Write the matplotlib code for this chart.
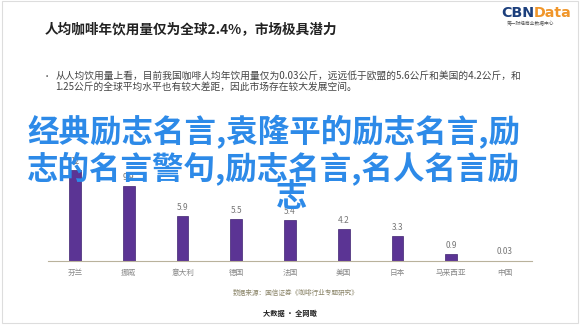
import numpy as np
import matplotlib.pyplot as plt
from matplotlib.patches import Rectangle

plt.rcParams['font.family'] = ['Noto Sans CJK SC', 'DejaVu Sans']

countries = ['芬兰', '挪威', '意大利', '德国', '法国', '美国', '日本', '马来西亚', '中国']
values = [12.0, 9.9, 5.9, 5.5, 5.4, 4.2, 3.3, 0.9, 0.03]
value_labels = ['12', '9.9', '5.9', '5.5', '5.4', '4.2', '3.3', '0.9', '0.03']

title = '人均咖啡年饮用量仅为全球2.4%，市场极具潜力'
bullet_lines = ['从人均饮用量上看，目前我国咖啡人均年饮用量仅为0.03公斤，远远低于欧盟的5.6公斤和美国的4.2公斤，和',
                '1.25公斤的全球平均水平也有较大差距，因此市场存在较大发展空间。']
source = '数据来源：国信证券《咖啡行业专题研究》'
footer = '大数据 · 全网瞰'
overlay = ['经典励志名言,袁隆平的励志名言,励', '志的名言警句,励志名言,名人名言励', '志']

fig = plt.figure(figsize=(5.8, 3.25), dpi=100)
fig.patch.set_facecolor('white')

# slide frame
fig.add_artist(Rectangle((0.004, 0.006), 0.992, 0.99, transform=fig.transFigure,
                         fill=False, edgecolor='#dddddd', linewidth=0.8))

ax = fig.add_axes([0.083, 0.197, 0.834, 0.372])
x = np.arange(len(countries))
bars = ax.bar(x, values, width=0.22, color='#5b3494', edgecolor='#3f2370', linewidth=0.5)
for xi, v, lab in zip(x, values, value_labels):
    ax.text(xi, v + 0.6, lab, ha='center', va='bottom', fontsize=6, color='#777777')

ax.set_xlim(-0.5, len(countries) - 0.5)
ax.set_ylim(0, 16)
ax.set_yticks([])
ax.set_xticks(x)
ax.set_xticklabels(countries, fontsize=5.5, color='#888888')
ax.tick_params(axis='x', length=0, pad=6)
for s in ['top', 'right', 'left']:
    ax.spines[s].set_visible(False)
ax.spines['bottom'].set_color('#b9b29c')
ax.spines['bottom'].set_linewidth(0.8)
ax.patch.set_alpha(0)

# header
fig.text(0.077, 0.907, title, fontsize=9.8, fontweight='bold', color='#222222', va='center')
fig.text(0.080, 0.766, '•', fontsize=6, color='#555555', va='center', ha='center')
fig.text(0.095, 0.766, bullet_lines[0], fontsize=7.0, color='#444444', va='center')
fig.text(0.095, 0.733, bullet_lines[1], fontsize=7.0, color='#444444', va='center')

# logo
r = fig.canvas.get_renderer()
t_cbn = fig.text(0.864, 0.96, 'CBN', fontsize=10.3, fontweight='bold', color='#1c3f7c',
                 va='center', family='DejaVu Sans')
bb = t_cbn.get_window_extent(renderer=r).transformed(fig.transFigure.inverted())
fig.text(bb.x1, 0.96, 'Data', fontsize=10.3, fontweight='bold', color='#f0962a',
         va='center', family='DejaVu Sans')
fig.text(0.914, 0.926, '第一财经商业数据中心', fontsize=3.4, color='#555555', ha='center', va='center')

# source / footer
fig.text(0.402, 0.098, source, fontsize=4.8, color='#8a8468', va='center')
fig.text(0.5, 0.037, footer, fontsize=5.2, fontweight='bold', color='#222222', ha='center', va='center')

# overlay text
fig.text(0.472, 0.592, overlay[0], fontsize=22.7, fontweight='bold', color='#2d8ae8', ha='center', va='center')
fig.text(0.472, 0.483, overlay[1], fontsize=22.7, fontweight='bold', color='#2d8ae8', ha='center', va='center')
fig.text(0.502, 0.394, overlay[2], fontsize=22.7, fontweight='bold', color='#2d8ae8', ha='center', va='center')

fig.savefig('out.png', dpi=100)
